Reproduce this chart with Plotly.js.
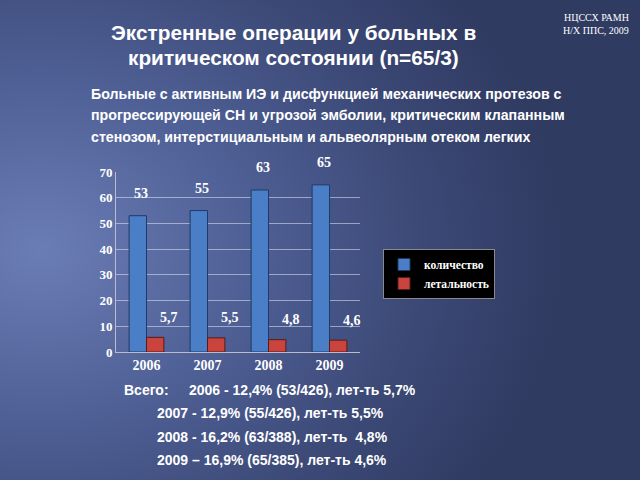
<!DOCTYPE html>
<html><head><meta charset="utf-8">
<script src="https://cdn.plot.ly/plotly-3.0.1.min.js"></script>
<style>
html,body{margin:0;padding:0;width:640px;height:480px;overflow:hidden;}
body{background:radial-gradient(ellipse 520px 420px at 40px 250px,#6b7db5 0%,#4f6096 40%,#3b4875 75%,#303b62 100%);}
#chart{width:640px;height:480px;}
</style></head><body>
<div id="chart"></div>
<script>
const years = ['2006','2007','2008','2009'];
const countValues = [53, 55, 63, 65];
const mortalityValues = [5.7, 5.5, 4.8, 4.6];
const countLabels = ['53','55','63','65'];
const mortalityLabels = ['5,7','5,5','4,8','4,6'];
const yTicks = [0,10,20,30,40,50,60,70];
const summaryHead = 'Всего:';
const summaryLines = [
  '2006 - 12,4% (53/426), лет-ть 5,7%',
  '2007 - 12,9% (55/426), лет-ть 5,5%',
  '2008 - 16,2% (63/388), лет-ть  4,8%',
  '2009 – 16,9% (65/385), лет-ть 4,6%'
];

const serif = 'Liberation Serif, DejaVu Serif, serif';
const sans = 'Liberation Sans, Arial, sans-serif';

const traces = [
  {type:'bar', x:years, y:countValues, name:'количество',
   marker:{color:'#4a7ec6', line:{color:'#1f3a66', width:1}}, hoverinfo:'none'},
  {type:'bar', x:years, y:mortalityValues, name:'летальность',
   marker:{color:'#c9443c', line:{color:'#5a1a18', width:1}}, hoverinfo:'none'}
];

const annotations = [];
years.forEach((yr,i)=>{
  annotations.push({x:i, y:countValues[i], xref:'x', yref:'y', text:countLabels[i],
    showarrow:false, xshift:-6, yshift:22, font:{family:serif, size:14, color:'#ffffff', weight:'bold'}});
  annotations.push({x:i, y:mortalityValues[i], xref:'x', yref:'y', text:mortalityLabels[i],
    showarrow:false, xshift:22, yshift:20, font:{family:serif, size:14, color:'#ffffff', weight:'bold'}});
});
annotations.push({xref:'paper', yref:'paper', x:293/640, y:1-33/480, text:'Экстренные операции у больных в', showarrow:false,
  font:{family:sans, size:20.8, color:'#ffffff', weight:'bold'}, xanchor:'center', yanchor:'middle'});
annotations.push({xref:'paper', yref:'paper', x:293/640, y:1-57/480, text:'критическом состоянии (n=65/3)', showarrow:false,
  font:{family:sans, size:20.8, color:'#ffffff', weight:'bold'}, xanchor:'center', yanchor:'middle'});
const subLines = ['Больные с активным ИЭ и дисфункцией механических протезов с',
  'прогрессирующей СН и угрозой эмболии, критическим клапанным',
  'стенозом, интерстициальным и альвеолярным отеком легких'];
subLines.forEach((t,i)=>annotations.push({xref:'paper', yref:'paper', x:89/640, y:1-(94+21.5*i)/480, text:t, showarrow:false,
  xanchor:'left', yanchor:'middle', font:{family:sans, size:14.2, color:'#ffffff', weight:'bold'}}));
annotations.push({xref:'paper', yref:'paper', x:631/640, y:1-18/480, text:'НЦССХ РАМН', showarrow:false, xanchor:'right', yanchor:'middle',
  font:{family:serif, size:10, color:'#ffffff'}});
annotations.push({xref:'paper', yref:'paper', x:631/640, y:1-31/480, text:'Н/Х ППС, 2009', showarrow:false, xanchor:'right', yanchor:'middle',
  font:{family:serif, size:10, color:'#ffffff'}});
annotations.push({xref:'paper', yref:'paper', x:122/640, y:1-390/480, text:summaryHead, showarrow:false,
  xanchor:'left', yanchor:'middle', font:{family:sans, size:14, color:'#ffffff', weight:'bold'}});
const sumX = [187,155,155,155], sumY = [390,413,437,460];
summaryLines.forEach((t,i)=>annotations.push({xref:'paper', yref:'paper', x:sumX[i]/640, y:1-sumY[i]/480, text:t, showarrow:false,
  xanchor:'left', yanchor:'middle', font:{family:sans, size:14, color:'#ffffff', weight:'bold'}}));

const layout = {
  width:640, height:480,
  paper_bgcolor:'rgba(0,0,0,0)', plot_bgcolor:'rgba(0,0,0,0)',
  margin:{l:0,r:0,t:0,b:0},
  barmode:'group', bargap:0.43, bargroupgap:0,
  showlegend:true,
  legend:{x:383/640, y:1-249/480, xanchor:'left', yanchor:'top', bgcolor:'#000000', bordercolor:'#8a8a8a', borderwidth:1,
    font:{family:serif, size:11.5, color:'#ffffff', weight:'bold'}, itemwidth:30, tracegroupgap:0},
  xaxis:{domain:[116/640, 360/640], type:'category', categoryarray:years, range:[-0.5,3.5], showgrid:false, showline:true, linecolor:'#b8bccc', linewidth:1,
    ticks:'', tickfont:{family:serif, size:14, color:'#ffffff', weight:'bold'}, fixedrange:true},
  yaxis:{domain:[128/480, 308/480], range:[0,70], tickvals:yTicks, showgrid:true, gridcolor:'rgba(225,230,245,0.55)', gridwidth:1,
    showline:true, linecolor:'#b8bccc', zeroline:false, ticks:'', mirror:false,
    tickfont:{family:serif, size:13, color:'#ffffff', weight:'bold'}, fixedrange:true},
  annotations:annotations
};
Plotly.newPlot('chart', traces, layout, {displayModeBar:false, staticPlot:true});
</script>
</body></html>
